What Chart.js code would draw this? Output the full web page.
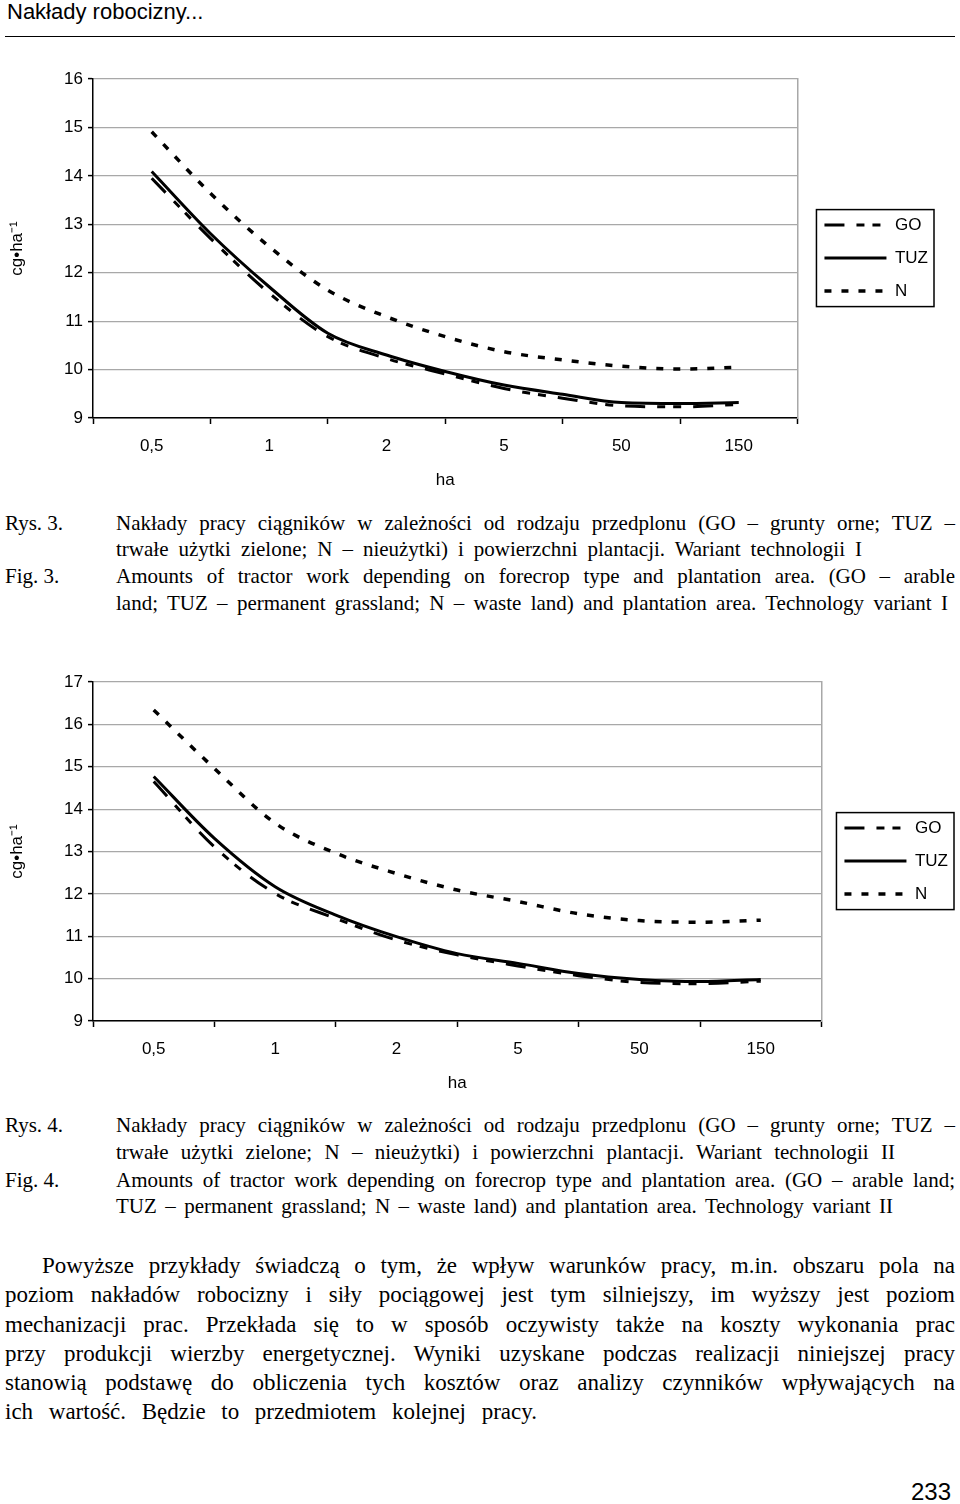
<!DOCTYPE html>
<html lang="pl">
<head>
<meta charset="utf-8">
<title>Nakłady robocizny...</title>
<script src="https://cdn.jsdelivr.net/npm/chart.js@4.4.1/dist/chart.umd.min.js"></script>
<style>
  html, body { margin: 0; padding: 0; background: #fff; }
  body { width: 960px; height: 1504px; position: relative; overflow: hidden;
         font-family: "Liberation Serif", "Times New Roman", serif; color: #000; }
  .abs { position: absolute; }
  .head { left: 7px; top: 0; font: 22px "Liberation Sans", Arial, sans-serif; line-height: 24px; }
  .rule { left: 5px; width: 950px; top: 36px; border-top: 1.5px solid #000; }
  .cap { font-size: 21px; line-height: 24px; }
  .par { font-size: 23px; line-height: 26px; }
  .ln { text-align: justify; text-align-last: justify; }
  .pg { font: 24px "Liberation Sans", Arial, sans-serif; left: 911px; top: 1478px; }
</style>
</head>
<body>
<div class="abs head">Nakłady robocizny...</div>
<div class="abs rule"></div>

<div class="abs" style="left:0;top:60px"><canvas id="chart1" width="960" height="440"></canvas></div>

<div class="abs cap" style="left:5px;top:511px">Rys. 3.</div>
<div class="abs cap ln" style="left:116px;top:511px;width:839px">Nakłady pracy ciągników w zależności od rodzaju przedplonu (GO – grunty orne; TUZ –</div>
<div class="abs cap ln" style="left:116px;top:537px;width:746px">trwałe użytki zielone; N – nieużytki) i powierzchni plantacji. Wariant technologii I</div>
<div class="abs cap" style="left:5px;top:564px">Fig. 3.</div>
<div class="abs cap ln" style="left:116px;top:564px;width:839px">Amounts of tractor work depending on forecrop type and plantation area. (GO – arable</div>
<div class="abs cap ln" style="left:116px;top:591px;width:832px">land; TUZ – permanent grassland; N – waste land) and plantation area. Technology variant I</div>

<div class="abs" style="left:0;top:660px"><canvas id="chart2" width="960" height="443"></canvas></div>

<div class="abs cap" style="left:5px;top:1113px">Rys. 4.</div>
<div class="abs cap ln" style="left:116px;top:1113px;width:839px">Nakłady pracy ciągników w zależności od rodzaju przedplonu (GO – grunty orne; TUZ –</div>
<div class="abs cap ln" style="left:116px;top:1140px;width:779px">trwałe użytki zielone; N – nieużytki) i powierzchni plantacji. Wariant technologii II</div>
<div class="abs cap" style="left:5px;top:1168px">Fig. 4.</div>
<div class="abs cap ln" style="left:116px;top:1168px;width:839px">Amounts of tractor work depending on forecrop type and plantation area. (GO – arable land;</div>
<div class="abs cap ln" style="left:116px;top:1194px;width:777px">TUZ – permanent grassland; N – waste land) and plantation area. Technology variant II</div>

<div class="abs par ln" style="left:42px;top:1253px;width:913px">Powyższe przykłady świadczą o tym, że wpływ warunków pracy, m.in. obszaru pola na</div>
<div class="abs par ln" style="left:5px;top:1282px;width:950px">poziom nakładów robocizny i siły pociągowej jest tym silniejszy, im wyższy jest poziom</div>
<div class="abs par ln" style="left:5px;top:1312px;width:950px">mechanizacji prac. Przekłada się to w sposób oczywisty także na koszty wykonania prac</div>
<div class="abs par ln" style="left:5px;top:1341px;width:950px">przy produkcji wierzby energetycznej. Wyniki uzyskane podczas realizacji niniejszej pracy</div>
<div class="abs par ln" style="left:5px;top:1370px;width:950px">stanowią podstawę do obliczenia tych kosztów oraz analizy czynników wpływających na</div>
<div class="abs par ln" style="left:5px;top:1399px;width:532px">ich wartość. Będzie to przedmiotem kolejnej pracy.</div>

<div class="abs pg">233</div>

<script>
// plantation area labels (ha) on the x axis
const areaLabels = ['0,5', '1', '2', '5', '50', '150'];
// values read every half step between the labelled areas (cg/ha)
const go1  = [13.95, 12.71, 11.58, 10.68, 10.23, 9.91, 9.61, 9.41, 9.25, 9.23, 9.28];
const tuz1 = [14.09, 12.81, 11.71, 10.75, 10.30, 9.96, 9.68, 9.49, 9.32, 9.30, 9.32];
const n1   = [14.91, 13.64, 12.54, 11.64, 11.09, 10.68, 10.37, 10.20, 10.07, 10.01, 10.05];

const go2  = [14.65, 13.11, 12.01, 11.42, 10.91, 10.56, 10.30, 10.07, 9.91, 9.88, 9.94];
const tuz2 = [14.77, 13.31, 12.17, 11.50, 10.99, 10.59, 10.36, 10.12, 9.98, 9.93, 9.98];
const n2   = [16.34, 14.96, 13.67, 12.96, 12.48, 12.09, 11.82, 11.53, 11.37, 11.33, 11.38];

const yRange1 = [9, 16];
const yRange2 = [9, 17];

Chart.defaults.font.family = '"Liberation Sans", Arial, sans-serif';
Chart.defaults.color = '#000';

const axisFont = { size: 17 };
const tickPos = [-0.5, ...areaLabels.flatMap((_, i) => [i, i + 0.5])];

function toPoints(vals) {
    return vals.map((v, i) => ({ x: i / 2, y: v }));
}

// legend samples keep the dash pattern of their line
function dashedLabels(chart) {
    const items = Chart.defaults.plugins.legend.labels.generateLabels(chart);
    return items.map((item) => {
        const ds = chart.data.datasets[item.datasetIndex];
        return { ...item, lineDash: ds.borderDash || [], lineWidth: ds.borderWidth, strokeStyle: '#000' };
    });
}

// frame around the legend, like in the original figure
const legendFrame = {
    id: 'legendFrame',
    afterDraw(chart) {
        const boxes = chart.legend && chart.legend.legendHitBoxes;
        if (!boxes || !boxes.length) return;
        const l = Math.min(...boxes.map(b => b.left)) - 8;
        const r = Math.max(...boxes.map(b => b.left + b.width)) + 6;
        const t = Math.min(...boxes.map(b => b.top)) - 7;
        const btm = Math.max(...boxes.map(b => b.top + b.height)) + 7;
        const ctx = chart.ctx;
        ctx.save();
        ctx.strokeStyle = '#000';
        ctx.lineWidth = 1.5;
        ctx.strokeRect(l, t, r - l, btm - t);
        ctx.restore();
    }
};

function makeChart(id, go, tuz, n, yRange, padTop, padRight, rightGap) {
    const line = { borderColor: '#000', backgroundColor: '#000', borderWidth: 3, pointRadius: 0,
                   cubicInterpolationMode: 'monotone', fill: false };
    return new Chart(document.getElementById(id), {
        type: 'line',
        data: {
            datasets: [
                { ...line, label: 'GO',  data: toPoints(go),  borderDash: [20, 12, 8, 8, 8, 12] },
                { ...line, label: 'TUZ', data: toPoints(tuz) },
                { ...line, label: 'N',   data: toPoints(n),   borderDash: [7, 10], borderWidth: 3.5 }
            ]
        },
        options: {
            responsive: false,
            animation: false,
            devicePixelRatio: 1,
            layout: { padding: { top: padTop, right: padRight, bottom: 0, left: 0 } },
            plugins: {
                tooltip: { enabled: false },
                legend: {
                    position: 'right',
                    fullSize: false,
                    title: { display: true, text: ' ', padding: 0, font: { size: 16 } },
                    labels: { usePointStyle: true, pointStyle: 'line', pointStyleWidth: 62,
                              padding: 16, color: '#000', font: axisFont,
                              generateLabels: dashedLabels }
                }
            },
            scales: {
                x: {
                    type: 'linear', min: -0.5, max: 5.5,
                    afterBuildTicks: (axis) => { axis.ticks = tickPos.map(v => ({ value: v })); },
                    afterFit: (axis) => { axis.height = 82; },
                    ticks: { autoSkip: false, maxRotation: 0, padding: 12, color: '#000', font: axisFont,
                             callback: (v) => Number.isInteger(v) ? areaLabels[v] : '' },
                    grid: { drawOnChartArea: false, tickLength: 6, tickWidth: 1.5,
                            tickColor: (c) => (c.tick && Number.isInteger(c.tick.value)) ? 'rgba(0,0,0,0)' : '#000' },
                    border: { color: '#000', width: 1.5 },
                    title: { display: true, text: 'ha', color: '#000', font: axisFont, padding: { top: 0, bottom: 9 } }
                },
                y: {
                    min: yRange[0], max: yRange[1],
                    afterFit: (axis) => { axis.width = 93; },
                    ticks: { stepSize: 1, padding: 5, color: '#000', font: axisFont },
                    grid: { color: '#a8a8a8', lineWidth: 1.2, tickColor: '#000', tickLength: 5, tickWidth: 1.5 },
                    border: { color: '#000', width: 1.5 },
                    title: { display: true, text: 'cg•ha⁻¹', color: '#000', font: axisFont, padding: { top: 7, bottom: 0 } }
                },
                y2: {
                    position: 'right', display: true,
                    afterFit: (axis) => { axis.width = rightGap; },
                    ticks: { display: false },
                    grid: { drawOnChartArea: false, drawTicks: false },
                    border: { color: '#a8a8a8', width: 1.5 }
                }
            }
        },
        plugins: [legendFrame]
    });
}

makeChart('chart1', go1, tuz1, n1, yRange1, 19, 22, 11);
makeChart('chart2', go2, tuz2, n2, yRange2, 22, 2, 7);
</script>
</body>
</html>
